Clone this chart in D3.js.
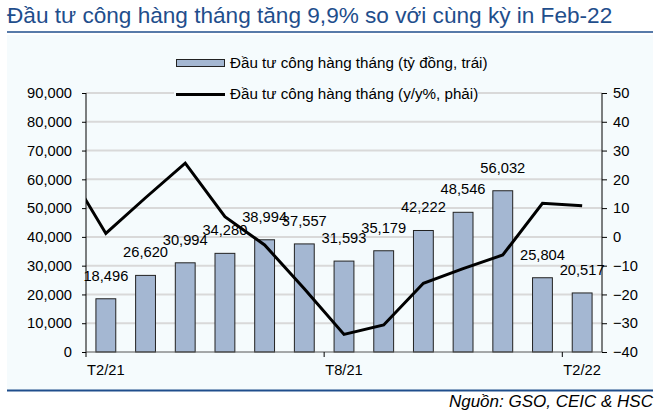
<!DOCTYPE html>
<html>
<head>
<meta charset="utf-8">
<script src="https://cdn.jsdelivr.net/npm/d3@7/dist/d3.min.js"></script>
<style>
  html, body { margin: 0; padding: 0; background: #ffffff; }
  svg { display: block; font-family: "Liberation Sans", Arial, sans-serif; }
</style>
</head>
<body>
<svg id="chart" width="670" height="415"></svg>
<script>
// ---- Data ----
const months = ["T2/21","T3/21","T4/21","T5/21","T6/21","T7/21","T8/21","T9/21","T10/21","T11/21","T12/21","T1/22","T2/22"];
const barValues = [18496, 26620, 30994, 34280, 38994, 37557, 31593, 35179, 42222, 48546, 56032, 25804, 20517];
const barLabels = ["18,496","26,620","30,994","34,280","38,994","37,557","31,593","35,179","42,222","48,546","56,032","25,804","20,517"];
// y/y % line (first entry is T1/21, which sits outside the plot and is clipped)
const lineMonths = ["T1/21"].concat(months);
const yoyValues = [24.2, 1.2, 13.6, 25.6, 7.0, -2.8, -18.0, -33.9, -30.6, -16.1, -11.0, -6.3, 11.7, 10.8];
const leftTicks = [0, 10000, 20000, 30000, 40000, 50000, 60000, 70000, 80000, 90000];
const rightTicks = [-40, -30, -20, -10, 0, 10, 20, 30, 40, 50];
const xTickLabels = ["T2/21", "T8/21", "T2/22"];
const title = "Đầu tư công hàng tháng tăng 9,9% so với cùng kỳ in Feb-22";
const legendBar = "Đầu tư công hàng tháng (tỷ đồng, trái)";
const legendLine = "Đầu tư công hàng tháng (y/y%, phải)";
const source = "Nguồn: GSO, CEIC & HSC";

// ---- Layout ----
const svg = d3.select("#chart");
const L = 86, R = 602, T = 93, B = 352;
const fs = 14.7;

// background & frame
svg.append("rect").attr("x", 7).attr("y", 35).attr("width", 646).attr("height", 355).attr("fill", "#f5fbfd");
svg.append("text").attr("x", 7).attr("y", 23).attr("font-size", 22.6).attr("fill", "#1f4e8c").text(title);
svg.append("line").attr("x1", 7).attr("x2", 653).attr("y1", 32).attr("y2", 32).attr("stroke", "#1f4e8c").attr("stroke-width", 1.5);
svg.append("line").attr("x1", 7).attr("x2", 653).attr("y1", 390.5).attr("y2", 390.5).attr("stroke", "#1f4e8c").attr("stroke-width", 2);
svg.append("text").attr("x", 653).attr("y", 407).attr("text-anchor", "end").attr("font-size", 17).attr("font-style", "italic").attr("fill", "#000").text(source);

// scales
const x = d3.scaleBand().domain(months).range([L, R]).paddingInner(0).paddingOuter(0);
const xi = d3.scaleLinear().domain([-0.5, months.length - 0.5]).range([L, R]);
const yL = d3.scaleLinear().domain([0, 90000]).range([B, T]);
const yR = d3.scaleLinear().domain([-40, 50]).range([B, T]);

// gridlines
svg.append("g").selectAll("line").data(leftTicks.filter(d => d > 0)).join("line")
  .attr("x1", L).attr("x2", R).attr("y1", d => yL(d)).attr("y2", d => yL(d))
  .attr("stroke", "#d9d9d9").attr("stroke-width", 2);

// left axis
const axL = svg.append("g").attr("transform", `translate(${L},0)`)
  .call(d3.axisLeft(yL).tickValues(leftTicks).tickSize(4).tickPadding(10).tickFormat(d3.format(",")));
axL.selectAll("text").attr("font-size", fs).attr("fill", "#000").attr("font-family", "Liberation Sans, Arial, sans-serif");
axL.selectAll("line, path").attr("stroke", "#000");
axL.select(".domain").attr("d", `M0,${B}V${T}`);

// right axis
const axR = svg.append("g").attr("transform", `translate(${R},0)`)
  .call(d3.axisRight(yR).tickValues(rightTicks).tickSize(5).tickPadding(6));
axR.selectAll("text").attr("font-size", fs).attr("fill", "#000").attr("font-family", "Liberation Sans, Arial, sans-serif");
axR.selectAll("line, path").attr("stroke", "#000");
axR.select(".domain").attr("d", `M0,${B}V${T}`);

// bars
const bw = x.bandwidth() * 0.5;
svg.append("g").selectAll("rect").data(months).join("rect")
  .attr("x", (d) => x(d) + (x.bandwidth() - bw) / 2)
  .attr("y", (d, i) => yL(barValues[i]))
  .attr("width", bw)
  .attr("height", (d, i) => B - yL(barValues[i]))
  .attr("fill", "#a4b7d2").attr("stroke", "#222").attr("stroke-width", 1);

// x axis
svg.append("line").attr("x1", L).attr("x2", R).attr("y1", B).attr("y2", B).attr("stroke", "#555").attr("stroke-width", 1);
const tickIdx = [0, 6, 12];
svg.append("g").selectAll("line").data(tickIdx).join("line")
  .attr("x1", d => x(months[d])).attr("x2", d => x(months[d]))
  .attr("y1", B).attr("y2", B + 5).attr("stroke", "#000");
svg.append("g").selectAll("text").data(xTickLabels).join("text")
  .attr("x", d => x(d) + x.bandwidth() / 2).attr("y", 375)
  .attr("text-anchor", "middle").attr("font-size", fs).attr("fill", "#000").text(d => d);

// bar labels
svg.append("g").selectAll("text").data(months).join("text")
  .attr("x", d => x(d) + x.bandwidth() / 2)
  .attr("y", (d, i) => yL(barValues[i]) - 18)
  .attr("text-anchor", "middle").attr("font-size", fs).attr("fill", "#000")
  .text((d, i) => barLabels[i]);

// line (clipped to the plot area)
svg.append("clipPath").attr("id", "plotclip").append("rect")
  .attr("x", L).attr("y", T - 10).attr("width", R - L).attr("height", B - T + 20);
const lineGen = d3.line().x((d, i) => xi(i - 1)).y(d => yR(d));
svg.append("path").datum(yoyValues).attr("d", lineGen)
  .attr("clip-path", "url(#plotclip)")
  .attr("fill", "none").attr("stroke", "#000").attr("stroke-width", 3).attr("stroke-linejoin", "miter");

// legend
const lfs = 15.2;
svg.append("rect").attr("x", 174).attr("y", 50).attr("width", 304).attr("height", 52).attr("fill", "#f5fbfd");
svg.append("rect").attr("x", 176.5).attr("y", 59.5).attr("width", 48).attr("height", 7)
  .attr("fill", "#a4b7d2").attr("stroke", "#222").attr("stroke-width", 1);
svg.append("text").attr("x", 230).attr("y", 67.5).attr("font-size", lfs).attr("fill", "#000").text(legendBar);
svg.append("line").attr("x1", 176).attr("x2", 225).attr("y1", 94.5).attr("y2", 94.5).attr("stroke", "#000").attr("stroke-width", 3);
svg.append("text").attr("x", 230).attr("y", 99).attr("font-size", lfs).attr("fill", "#000").text(legendLine);
</script>
</body>
</html>
